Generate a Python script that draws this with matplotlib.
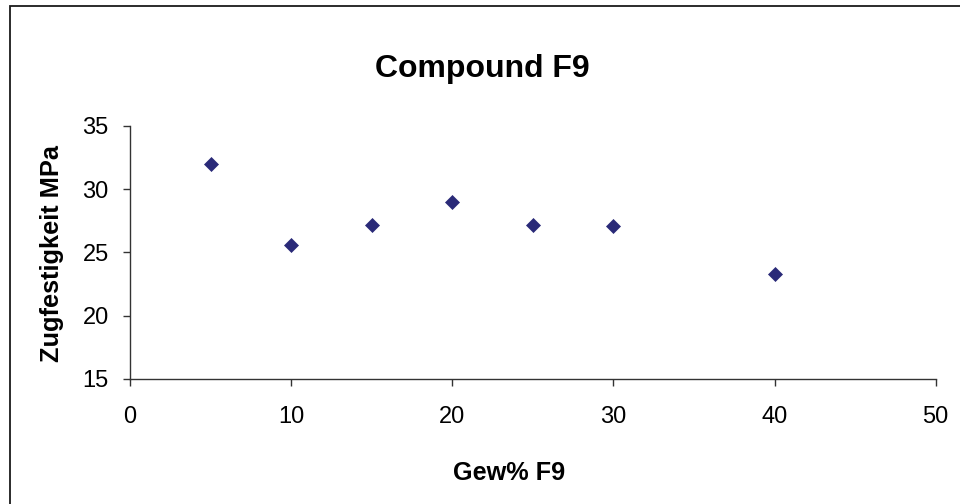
import matplotlib
matplotlib.use("Agg")
import matplotlib.pyplot as plt
from matplotlib.patches import Rectangle

plt.rcParams['font.family'] = ['Liberation Sans', 'DejaVu Sans']

gew = [5, 10, 15, 20, 25, 30, 40]
zugfestigkeit = [32.0, 25.6, 27.2, 29.0, 27.2, 27.05, 23.25]
x_ticks = [0, 10, 20, 30, 40, 50]
y_ticks = [15, 20, 25, 30, 35]

fig = plt.figure(figsize=(9.6, 5.04), dpi=100)
ax = fig.add_axes([130/960, 1-378.7/504, (935.7-130)/960, (378.7-126)/504])

ax.plot(gew, zugfestigkeit, linestyle='none', marker='D', ms=7.2,
        color='#2a2a78', mec='#2a2a78', mew=0.5)

ax.set_xlim(0, 50)
ax.set_ylim(15, 35)
ax.set_xticks(x_ticks)
ax.set_yticks(y_ticks)
for s in ['top', 'right']:
    ax.spines[s].set_visible(False)
for s in ['left', 'bottom']:
    ax.spines[s].set_color('#333333')
    ax.spines[s].set_linewidth(1.0)
ax.tick_params(axis='x', direction='out', length=5.3, width=1.0, color='#333333',
               labelsize=17, pad=14.5)
ax.tick_params(axis='y', direction='out', length=5.3, width=1.0, color='#333333',
               labelsize=17, pad=10)

fig.text(482/960, 1-69/504, 'Compound F9', ha='center', va='center',
         fontsize=23, fontweight='bold')
fig.text(509/960, 1-473/504, 'Gew% F9', ha='center', va='center',
         fontsize=18.2, fontweight='bold')
fig.text(52.5/960, 1-254/504, 'Zugfestigkeit MPa', ha='center', va='center',
         rotation=90, fontsize=18.3, fontweight='bold')

fig.patches.append(Rectangle((9.5/960, -0.1), 1.2, 1 - 6.5/504 + 0.1,
                             transform=fig.transFigure, fill=False,
                             edgecolor='#1a1a1a', linewidth=1.3))

fig.savefig('out.png', dpi=100)
